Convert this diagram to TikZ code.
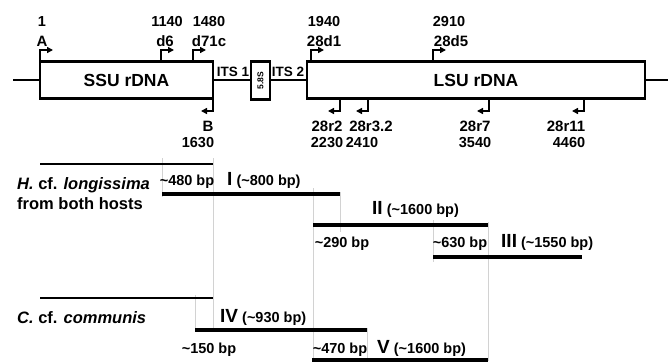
\documentclass[tikz,border=0pt]{standalone}
\usepackage{fontspec}
\setmainfont{Liberation Sans}
\usetikzlibrary{arrows.meta}
\begin{document}
\begin{tikzpicture}[x=1pt,y=-1pt,
  font=\bfseries,
  boxline/.style={draw, line width=2.2pt, inner sep=0pt},
  mainline/.style={line width=2.2pt},
  fwd/.style={line width=2pt,-{Triangle[length=6pt,width=6pt]}},
  num/.style={inner sep=0pt, font=\bfseries\fontsize{14.5}{16}\selectfont},
  prim/.style={inner sep=0pt, font=\bfseries\fontsize{15}{17}\selectfont},
  its/.style={inner sep=0pt, font=\bfseries\fontsize{13.5}{15}\selectfont},
  bp/.style={inner sep=0pt, anchor=base, font=\bfseries\fontsize{14.5}{16}\selectfont},
  frag/.style={inner sep=0pt, anchor=base west, font=\bfseries\fontsize{14.5}{16}\selectfont},
  taxon/.style={inner sep=0pt, anchor=base west, font=\bfseries\fontsize{16.5}{19}\selectfont},
  thinbar/.style={line width=2.2pt},
  thickbar/.style={line width=4pt},
  guide/.style={line width=0.6pt, draw=gray!35}]
\useasboundingbox (0,0) rectangle (668,361);

% gene boxes
\node[boxline, minimum width=173pt, minimum height=37pt, font=\bfseries\fontsize{17.5}{20}\selectfont] (ssu) at (126.5,80) {SSU rDNA};
\node[boxline, minimum width=19pt, minimum height=38pt] (s58) at (260.5,80.5) {};
\node[inner sep=0pt, rotate=90, font=\bfseries\fontsize{8.5}{9}\selectfont] (s58t) at (260.5,80.5) {5.8S};
\node[boxline, minimum width=338pt, minimum height=37pt, font=\bfseries\fontsize{17.5}{20}\selectfont] (lsu) at (476,80) {LSU rDNA};
\coordinate (lstart) at (13,80);
\coordinate (lend) at (668,80);
\draw[mainline] (lstart) -- (ssu.west);
\draw[mainline] (ssu.east) -- (s58.west|-ssu.east);
\draw[mainline] (s58.east|-lsu.west) -- (lsu.west);
\draw[mainline] (lsu.east) -- (lend);

\node[its] (its1) at (233,72) {ITS 1};
\node[its] (its2) at (288,72) {ITS 2};

% forward primers
\draw[fwd] (40,61.5) |- (53,50);
\draw[fwd] (161,61.5) |- (174,50);
\draw[fwd] (193,61.5) |- (206,50);
\draw[fwd] (311,61.5) |- (324,50);
\draw[fwd] (433,61.5) |- (446,50);
% reverse primers
\draw[fwd] (213,98.5) |- (201,111);
\draw[fwd] (340,98.5) |- (328,111);
\draw[fwd] (368,98.5) |- (356,111);
\draw[fwd] (489,98.5) |- (477,111);
\draw[fwd] (584,98.5) |- (572,111);

% primer labels
\node[num] (n1) at (42,22) {1};
\node[prim] (pA) at (42,41) {A};
\node[num] (n1140) at (167,22) {1140};
\node[prim] (pd6) at (165,41) {d6};
\node[num] (n1480) at (209,22) {1480};
\node[prim] (pd71c) at (209,41) {d71c};
\node[num] (n1940) at (324,22) {1940};
\node[prim] (p28d1) at (324,41) {28d1};
\node[num] (n2910) at (449,22) {2910};
\node[prim] (p28d5) at (451,41) {28d5};
\node[prim] (pB) at (208,126) {B};
\node[num] (n1630) at (198,143) {1630};
\node[prim] (p28r2) at (327,126) {28r2};
\node[num] (n2230) at (327,143) {2230};
\node[prim] (p28r32) at (371,126) {28r3.2};
\node[num] (n2410) at (362,143) {2410};
\node[prim] (p28r7) at (475,126) {28r7};
\node[num] (n3540) at (475,143) {3540};
\node[prim] (p28r11) at (566,126) {28r11};
\node[num] (n4460) at (569,143) {4460};

% guide lines
\draw[guide] (162,158) -- (162,197);
\draw[guide] (213,158) -- (213,330);
\draw[guide] (313,188) -- (313,361);
\draw[guide] (340,192) -- (340,232);
\draw[guide] (433,220) -- (433,262);
\draw[guide] (488,222) -- (488,361);
\draw[guide] (195,295) -- (195,330);
\draw[guide] (367,328) -- (367,361);

% H. cf. longissima fragments
\draw[thinbar] (40,164) -- (213,164);
\draw[thickbar] (162,194) -- (340,194);
\draw[thickbar] (313,225) -- (488,225);
\draw[thickbar] (433,257) -- (582,257);

\node[taxon] (hcf) at (17,189) {\itshape H.\upshape{} cf. \itshape longissima};
\node[taxon] (hosts) at (17,209) {from both hosts};
\node[bp] (b480) at (187,185) {\textasciitilde480 bp};
\node[frag] (fI) at (227,185) {{\fontsize{19}{20}\selectfont I} (\textasciitilde800 bp)};
\node[frag] (fII) at (372,214) {{\fontsize{19}{20}\selectfont II} (\textasciitilde1600 bp)};
\node[bp] (b290) at (342,247) {\textasciitilde290 bp};
\node[bp] (b630) at (460,247) {\textasciitilde630 bp};
\node[frag] (fIII) at (501,247) {{\fontsize{19}{20}\selectfont III} (\textasciitilde1550 bp)};

% C. cf. communis fragments
\draw[thinbar] (40,298) -- (213,298);
\draw[thickbar] (195,330) -- (367,330);
\draw[thickbar] (312,360) -- (488,360);

\node[taxon] (ccf) at (17,323) {\itshape C.\upshape{} cf. \itshape communis};
\node[frag] (fIV) at (220,322) {{\fontsize{19}{20}\selectfont IV} (\textasciitilde930 bp)};
\node[bp] (b150) at (209,353) {\textasciitilde150 bp};
\node[bp] (b470) at (340,353) {\textasciitilde470 bp};
\node[frag] (fV) at (377,353) {{\fontsize{19}{20}\selectfont V} (\textasciitilde1600 bp)};
\end{tikzpicture}
\end{document}
